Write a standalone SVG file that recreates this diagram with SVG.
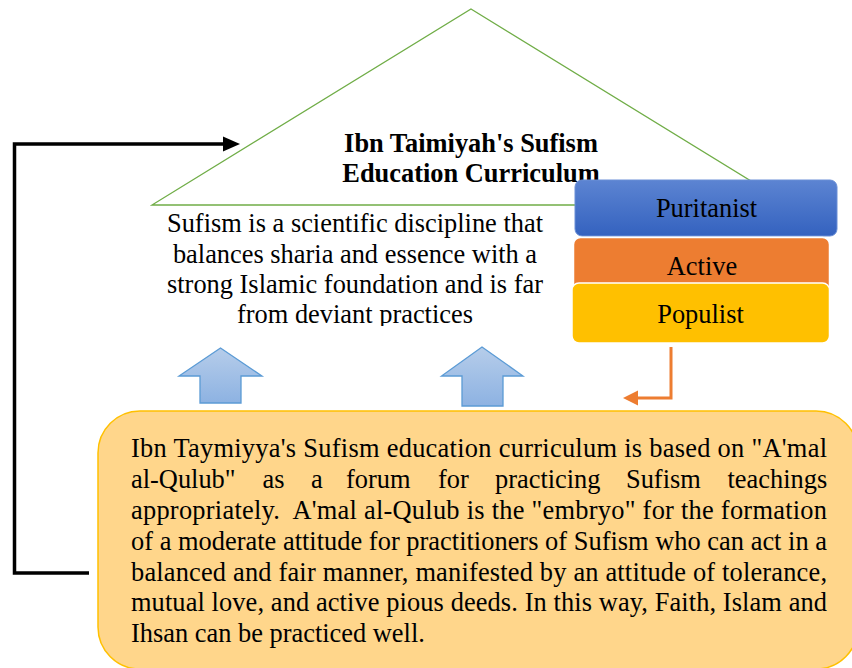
<svg xmlns="http://www.w3.org/2000/svg" width="852" height="668" viewBox="0 0 852 668">
  <style>
    .t { font-family: "Liberation Serif", "Times New Roman", serif; font-size: 26.4px; fill: #000; }
    .b { font-weight: bold; }
    .c { text-anchor: middle; }
    .up { fill: url(#gBlueArrow); stroke: #5b9bd5; stroke-width: 1.3; }
  </style>
  <defs>
    <linearGradient id="gBlueArrow" x1="0" y1="0" x2="0" y2="1">
      <stop offset="0" stop-color="#b6cdea"/>
      <stop offset="1" stop-color="#8db2e2"/>
    </linearGradient>
    <linearGradient id="gPur" x1="0" y1="0" x2="0" y2="1">
      <stop offset="0" stop-color="#5c84d2"/>
      <stop offset="1" stop-color="#3462bf"/>
    </linearGradient>
    <clipPath id="clipBody">
      <rect x="100" y="200" width="500" height="126"/>
    </clipPath>
  </defs>

  <g id="connectors">
    <path d="M89,573 H14.5 V144 H226" fill="none" stroke="#000" stroke-width="3.5"/>
    <polygon points="240,144 223,136.5 223,151.5" fill="#000"/>
    <path d="M671,347 V398 H636" fill="none" stroke="#ED7D31" stroke-width="3"/>
    <polygon points="623,398 638,390.5 638,405.5" fill="#ED7D31"/>
  </g>

  <g id="triangle">
    <polygon points="471,9 790,205 152,205" fill="#fff" stroke="#70AD47" stroke-width="1.3"/>
    <text class="t b c" x="471" y="152">Ibn Taimiyah's Sufism</text>
    <text class="t b c" x="471" y="182">Education Curriculum</text>
  </g>

  <g id="definition" clip-path="url(#clipBody)">
    <text class="t c" x="355" y="232">Sufism is a scientific discipline that</text>
    <text class="t c" x="355" y="263">balances sharia and essence with a</text>
    <text class="t c" x="355" y="293">strong Islamic foundation and is far</text>
    <text class="t c" x="355" y="323">from deviant practices</text>
  </g>

  <g id="puritanist">
    <rect x="575" y="180" width="262" height="56" rx="7" fill="url(#gPur)" stroke="#6a8fd6" stroke-width="1"/>
    <text class="t c" x="706.5" y="217">Puritanist</text>
  </g>
  <g id="active">
    <rect x="573.5" y="237.5" width="256" height="62" rx="7" fill="#ED7D31" stroke="#fff" stroke-width="1.5"/>
    <text class="t c" x="702" y="275">Active</text>
  </g>
  <g id="populist">
    <rect x="572" y="283" width="257.5" height="60" rx="7" fill="#FFC000" stroke="#fff" stroke-width="1.5"/>
    <text class="t c" x="700.5" y="323">Populist</text>
  </g>

  <g id="arrow1">
    <polygon class="up" points="220.5,348 262,376 241,376 241,403 200,403 200,376 179,376"/>
  </g>
  <g id="arrow2">
    <polygon class="up" points="482,347 523,376 503,376 503,406 462,406 462,376 441.5,376"/>
  </g>

  <g id="summary">
    <rect x="98" y="411" width="760" height="258" rx="42" fill="#FFD68B" stroke="#FFC000" stroke-width="1.5"/>
    <text class="t" x="131" y="457" textLength="696" lengthAdjust="spacing">Ibn Taymiyya's Sufism education curriculum is based on "A'mal</text>
    <text class="t" y="488"><tspan x="131">al-Qulub"</tspan><tspan x="262.5">as</tspan><tspan x="311">a</tspan><tspan x="346">forum</tspan><tspan x="438">for</tspan><tspan x="495">practicing</tspan><tspan x="626">Sufism</tspan><tspan x="727.5">teachings</tspan></text>
    <text class="t" x="131" y="519" textLength="696" lengthAdjust="spacing" style="white-space:pre">appropriately.  A'mal al-Qulub is the "embryo" for the formation</text>
    <text class="t" x="131" y="549.5" textLength="696" lengthAdjust="spacing">of a moderate attitude for practitioners of Sufism who can act in a</text>
    <text class="t" x="131" y="580.5" textLength="696" lengthAdjust="spacing">balanced and fair manner, manifested by an attitude of tolerance,</text>
    <text class="t" x="131" y="611" textLength="696" lengthAdjust="spacing">mutual love, and active pious deeds. In this way, Faith, Islam and</text>
    <text class="t" x="131" y="642">Ihsan can be practiced well.</text>
  </g>
</svg>
